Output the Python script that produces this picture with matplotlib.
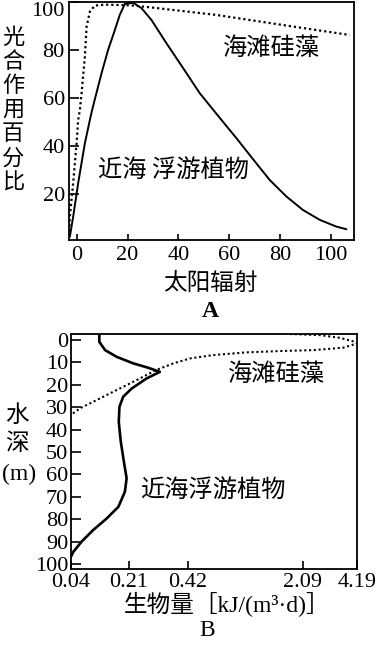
import numpy as np
import matplotlib
matplotlib.use("Agg")
import matplotlib.pyplot as plt

plt.rcParams['font.family'] = ['Liberation Serif', 'Noto Sans CJK SC', 'DejaVu Sans']
CJK = ['Noto Sans CJK SC', 'DejaVu Sans']
MIX = ['Liberation Serif', 'Noto Sans CJK SC', 'DejaVu Sans']

# ---------------- Panel A data ----------------
a_plank_x = [-2.76, -1.46, 0.51, 3.15, 5.12, 5.79, 7.09, 9.72, 12.3, 14.96, 16.9, 18.9,
             22.2, 25.5, 29.4, 35.3, 41.9, 48.4, 57.0, 62.9, 69.4, 76.0, 82.6, 89.1,
             95.7, 102.2, 106.2]
a_plank_y = [2.2, 10.5, 24.5, 41.1, 50.8, 54.0, 59.5, 70.3, 80.0, 88.3, 94.6, 99.2,
             99.7, 97.4, 92.5, 82.8, 72.4, 62.0, 50.8, 43.2, 34.5, 25.8, 18.9, 13.3,
             9.2, 6.4, 5.3]
a_diatom_x = [-3.15, -2.76, -1.46, -0.12, 0.51, 1.18, 1.85, 3.15, 3.82, 5.12, 7.09,
              11.0, 21.5, 28.7, 55.0, 81.2, 107.5]
a_diatom_y = [2.2, 10.5, 24.5, 41.1, 50.8, 55.0, 62.0, 77.2, 89.7, 96.0, 98.5,
              98.9, 98.6, 97.8, 94.6, 90.4, 86.25]
a_xticks = [0, 20, 40, 60, 80, 100]
a_yticks = [20, 40, 60, 80, 100]

# ---------------- Panel B data ----------------
b_plank_v = [0.123, 0.123, 0.14, 0.174, 0.225, 0.279, 0.32, 0.273, 0.22, 0.193, 0.182,
             0.18, 0.186, 0.195, 0.203, 0.198, 0.179, 0.145, 0.105, 0.071, 0.047, 0.04]
b_plank_d = [-2.7, 0.8, 4.5, 7.5, 10.4, 12.4, 14.2, 17.1, 21.6, 25.3, 29.8,
             36.5, 45.4, 54.3, 61.7, 67.7, 74.4, 79.6, 84.8, 90.0, 94.5, 96.7]
b_diatom_v = [1.9, 2.75, 3.53, 4.11, 4.19, 3.66, 2.49, 1.756, 1.272, 0.788, 0.449,
              0.368, 0.306, 0.237, 0.174, 0.115, 0.066, 0.042]
b_diatom_d = [-2.7, -2.2, -1.0, 0.8, 1.5, 3.4, 4.5, 4.9, 5.5, 6.7, 8.2,
              10.4, 13.4, 17.9, 22.3, 26.8, 30.5, 33.2]
b_xticks = [0.04, 0.21, 0.42, 2.09, 4.19]
b_xtick_labels = ['0.04', '0.21', '0.42', '2.09', '4.19']
b_yticks = [0, 10, 20, 30, 40, 50, 60, 70, 80, 90, 100]

# piecewise-linear axis scale of panel B (tick value -> relative axis position)
b_scale_pos = [0, 58, 117, 232, 286]

W, H = 380, 648
fig = plt.figure(figsize=(W / 100, H / 100), dpi=100)


def ax_rect(l, r, t, b):
    return [l / W, 1 - b / H, (r - l) / W, (b - t) / H]


def fx(x):
    return x / W


def fy(y):
    return 1 - y / H


TICK_FS = 16
LAB_FS = 17.5

# ---------------- Panel A ----------------
axA = fig.add_axes(ax_rect(69, 354, 2, 240))
axA.plot(a_plank_x, a_plank_y, color='black', lw=1.4, solid_capstyle='round',
         solid_joinstyle='round')
axA.plot(a_diatom_x, a_diatom_y, color='black', lw=1.6, linestyle=(0, (1, 1.3)))
axA.set_xlim(-3.1, 109.2)
axA.set_ylim(0.8, 100)
axA.set_xticks(a_xticks)
axA.set_yticks(a_yticks)
axA.set_xticklabels([str(t) for t in a_xticks])
axA.set_yticklabels([str(t) for t in a_yticks])
axA.tick_params(direction='in', labelsize=TICK_FS, width=1.2)
axA.tick_params(axis='y', length=7, pad=3)
axA.tick_params(axis='x', length=4, pad=4)
axA.get_yticklabels()[-1].set_va('top')
for s in axA.spines.values():
    s.set_linewidth(1.3)

fig.text(fx(271), fy(48), '海滩硅藻', family=CJK, fontsize=LAB_FS,
         ha='center', va='center')
fig.text(fx(173), fy(170), '近海 浮游植物', family=CJK, fontsize=LAB_FS,
         ha='center', va='center')
for i, ch in enumerate('光合作用百分比'):
    fig.text(fx(13), fy(37 + i * 24.2), ch, family=CJK, fontsize=16,
             ha='center', va='center')
fig.text(fx(210), fy(283), '太阳辐射', family=CJK, fontsize=17,
         ha='center', va='center')
fig.text(fx(210), fy(312), 'A', family=MIX, fontsize=17, fontweight='bold',
         ha='center', va='center')

# ---------------- Panel B ----------------
axB = fig.add_axes(ax_rect(71, 357, 334, 569))


def fwd(v):
    return np.interp(v, b_xticks, b_scale_pos)


def inv(p):
    return np.interp(p, b_scale_pos, b_xticks)


axB.set_xscale('function', functions=(fwd, inv))
axB.plot(b_plank_v, b_plank_d, color='black', lw=1.9, solid_joinstyle='round')
axB.plot(b_diatom_v, b_diatom_d, color='black', lw=1.5, linestyle=(0, (1, 1.3)))
axB.set_xlim(0.04, 4.19)
axB.set_ylim(102.2, -2.7)
axB.set_xticks(b_xticks)
axB.set_xticklabels(b_xtick_labels)
axB.set_yticks(b_yticks)
axB.set_yticklabels([str(t) for t in b_yticks])
axB.xaxis.set_minor_locator(matplotlib.ticker.NullLocator())
axB.tick_params(direction='in', labelsize=TICK_FS, width=1.2)
axB.tick_params(axis='y', length=7, pad=2)
axB.tick_params(axis='x', length=6, pad=3)
for s in axB.spines.values():
    s.set_linewidth(1.3)

fig.text(fx(276), fy(374), '海滩硅藻', family=CJK, fontsize=LAB_FS,
         ha='center', va='center')
fig.text(fx(213), fy(490), '近海浮游植物', family=CJK, fontsize=LAB_FS,
         ha='center', va='center')
fig.text(fx(17), fy(415), '水', family=CJK, fontsize=17, ha='center', va='center')
fig.text(fx(17), fy(443), '深', family=CJK, fontsize=17, ha='center', va='center')
fig.text(fx(19), fy(474), '(m)', family=MIX, fontsize=17, ha='center', va='center')
fig.text(fx(227), fy(605), '生物量［kJ/(m³·d)］', family=MIX, fontsize=17,
         ha='center', va='center')
fig.text(fx(207), fy(630), 'B', family=MIX, fontsize=17,
         ha='center', va='center')

fig.savefig('out.png', dpi=100)
